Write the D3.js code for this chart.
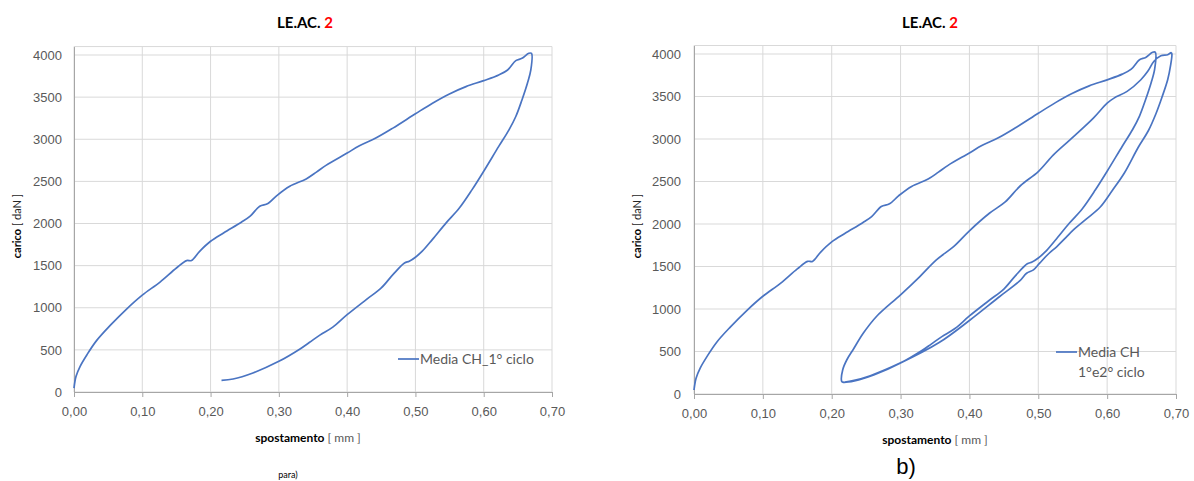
<!DOCTYPE html>
<html>
<head>
<meta charset="utf-8">
<script src="https://cdn.jsdelivr.net/npm/d3@7"></script>
<style>
  body { margin: 0; background: #fff; }
  svg { font-family: Lato, "Open Sans", sans-serif; }
</style>
</head>
<body>
<svg id="chart" width="1194" height="481"></svg>
<script>
// 1st cycle: loading then unloading (spostamento mm, carico daN)
const ciclo1_x = [0.000, 0.003, 0.009, 0.019, 0.033, 0.053, 0.077, 0.100, 0.126, 0.150, 0.165, 0.172, 0.184, 0.200,
  0.219, 0.245, 0.258, 0.272, 0.284, 0.297, 0.316, 0.340, 0.355, 0.369, 0.400, 0.418, 0.442, 0.467, 0.500, 0.525,
  0.549, 0.574, 0.600, 0.622, 0.635, 0.647, 0.656, 0.666, 0.670,
  0.669, 0.664, 0.656, 0.647, 0.637, 0.622, 0.600, 0.583, 0.564, 0.545, 0.525, 0.510, 0.500, 0.491, 0.484, 0.467,
  0.450, 0.428, 0.400, 0.379, 0.360, 0.345, 0.331, 0.300, 0.262, 0.233, 0.216];
const ciclo1_y = [47, 186, 305, 443, 610, 790, 985, 1150, 1305, 1472, 1560, 1560, 1670, 1789,
  1888, 2015, 2087, 2205, 2237, 2331, 2442, 2529, 2610, 2690, 2836, 2923, 3014, 3132, 3302, 3428,
  3535, 3625, 3696, 3763, 3822, 3933, 3960, 4020, 4020,
  3822, 3665, 3467, 3270, 3112, 2915, 2620, 2402, 2180, 2008, 1812, 1671, 1600, 1552, 1532, 1393,
  1235, 1097, 918, 770, 675, 590, 511, 364, 226, 154, 139];
// 2nd cycle: reloading then unloading
const ciclo2_x = [0.2145, 0.216, 0.222, 0.231, 0.246, 0.265, 0.300, 0.328, 0.352, 0.377, 0.400, 0.429, 0.452, 0.474,
  0.500, 0.522, 0.546, 0.580, 0.600, 0.610, 0.629, 0.649, 0.659, 0.668, 0.678, 0.688, 0.693,
  0.694, 0.692, 0.688, 0.680, 0.671, 0.660, 0.645, 0.625, 0.608, 0.590, 0.570, 0.551, 0.540, 0.527, 0.515, 0.502,
  0.493, 0.483, 0.473, 0.444, 0.400, 0.356, 0.300, 0.256, 0.231, 0.219];
const ciclo2_y = [149, 286, 403, 521, 717, 912, 1167, 1382, 1578, 1734, 1920, 2126, 2260, 2450,
  2617, 2813, 2990, 3246, 3422, 3481, 3560, 3697, 3796, 3914, 3980, 3992, 4015,
  4000, 3860, 3700, 3500, 3300, 3100, 2900, 2600, 2400, 2200, 2060, 1930, 1840, 1735, 1650, 1539,
  1460, 1420, 1330, 1147, 865, 605, 366, 215, 157, 141];

const xTicks = [0, 0.1, 0.2, 0.3, 0.4, 0.5, 0.6, 0.7];
const yTicks = [0, 500, 1000, 1500, 2000, 2500, 3000, 3500, 4000];

const lineColor = "#4a74c2";
const gridColor = "#d9d9d9";
const textColor = "#595959";
const fmtX = d => d.toFixed(2).replace(".", ",");

const svg = d3.select("#chart");

function drawChart(cfg) {
  const x = d3.scaleLinear().domain([0, 0.7]).range([cfg.left, cfg.right]);
  const y = d3.scaleLinear().domain([0, 4100]).range([cfg.bottom, cfg.bottom - (cfg.bottom - cfg.y4000) * 4100 / 4000]);
  const g = svg.append("g");

  // gridlines
  g.selectAll(".hg").data(yTicks.concat([4100])).join("line")
    .attr("x1", x(0)).attr("x2", x(0.7))
    .attr("y1", d => y(d)).attr("y2", d => y(d))
    .attr("stroke", gridColor).attr("stroke-width", 1);
  g.selectAll(".vg").data(xTicks).join("line")
    .attr("x1", d => x(d)).attr("x2", d => x(d))
    .attr("y1", y(0)).attr("y2", y(4100))
    .attr("stroke", gridColor).attr("stroke-width", 1);

  // x axis
  const xa = g.append("g").attr("transform", "translate(0," + y(0) + ")")
    .call(d3.axisBottom(x).tickValues(xTicks).tickFormat(fmtX).tickSize(5).tickPadding(10));
  xa.select(".domain").attr("stroke", "#a6a6a6");
  xa.selectAll(".tick line").attr("stroke", "#a6a6a6");
  xa.selectAll("text").attr("fill", textColor).style("font-size", "13px");

  // y axis
  const ya = g.append("g").attr("transform", "translate(" + x(0) + ",0)")
    .call(d3.axisLeft(y).tickValues(yTicks).tickFormat(d => String(d)).tickSize(0).tickPadding(cfg.ypad));
  ya.select(".domain").attr("stroke", "#a6a6a6");
  ya.selectAll("text").attr("fill", textColor).style("font-size", "13px");

  // data
  const line = d3.line().x(d => x(d[0])).y(d => y(d[1])).curve(d3.curveCatmullRom.alpha(0.5));
  g.append("path").datum(cfg.data)
    .attr("d", line)
    .attr("fill", "none")
    .attr("stroke", lineColor)
    .attr("stroke-width", 1.7)
    .attr("stroke-linejoin", "round");

  // title
  const t = g.append("text").attr("x", cfg.titleX).attr("y", 28)
    .attr("text-anchor", "middle").style("font-size", "15px").style("font-weight", "bold");
  t.append("tspan").attr("fill", "#000").text("LE.AC. ");
  t.append("tspan").attr("fill", "#ff0000").text("2");

  // axis titles
  const yt = g.append("text")
    .attr("transform", "translate(" + cfg.yTitleX + "," + 226 + ") rotate(-90)")
    .attr("text-anchor", "middle").style("font-size", "11px").attr("fill", "#000");
  yt.append("tspan").style("font-weight", "bold").text("carico");
  yt.append("tspan").attr("fill", "#262626").text(" [ daN ]");

  const xt = g.append("text").attr("x", cfg.xTitleX).attr("y", cfg.xTitleY)
    .attr("text-anchor", "middle").style("font-size", "12px").attr("fill", "#000");
  xt.append("tspan").style("font-weight", "bold").text("spostamento");
  xt.append("tspan").attr("fill", textColor).text("  [ mm ]");

  // legend
  g.append("line")
    .attr("x1", cfg.legX).attr("x2", cfg.legX + 21)
    .attr("y1", cfg.legY).attr("y2", cfg.legY)
    .attr("stroke", lineColor).attr("stroke-width", 1.7);
  cfg.legend.forEach((s, i) => {
    g.append("text").attr("x", cfg.legX + 22).attr("y", cfg.legY + 5 + i * 20)
      .attr("fill", textColor).style("font-size", "14px").text(s);
  });
}

const data1 = ciclo1_x.map((v, i) => [v, ciclo1_y[i]]);
const data2 = data1.concat(ciclo2_x.map((v, i) => [v, ciclo2_y[i]]));

drawChart({
  left: 74, right: 552, bottom: 392, y4000: 55, ypad: 12,
  data: data1, titleX: 305, yTitleX: 21, xTitleX: 308, xTitleY: 442,
  legX: 398, legY: 359, legend: ["Media CH_1° ciclo"]
});
drawChart({
  left: 694, right: 1176, bottom: 394, y4000: 54, ypad: 13,
  data: data2, titleX: 930, yTitleX: 641, xTitleX: 935, xTitleY: 444,
  legX: 1056, legY: 352, legend: ["Media CH", "1°e2° ciclo"]
});

// panel captions
svg.append("text").attr("x", 288).attr("y", 478).attr("text-anchor", "middle")
  .style("font-size", "9px").attr("fill", "#000").text("para)");
svg.append("text").attr("x", 906).attr("y", 474).attr("text-anchor", "middle")
  .style("font-size", "22px").attr("fill", "#000").style("font-family", "'Liberation Sans', Arial, sans-serif").text("b)");
</script>
</body>
</html>
